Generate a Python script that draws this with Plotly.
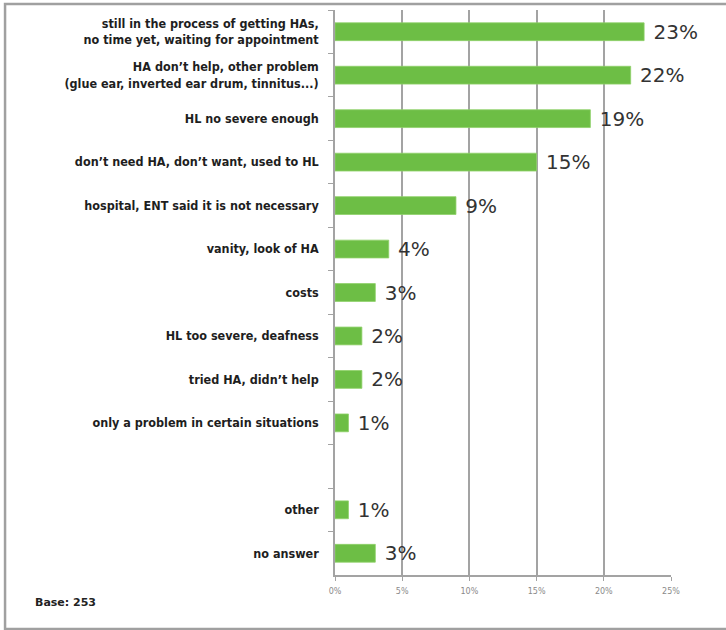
import plotly.graph_objects as go

# Reasons given for not having hearing aids (share of respondents, %)
reasons = [
    "still in the process of getting HAs,<br>no time yet, waiting for appointment",
    "HA don’t help, other problem<br>(glue ear, inverted ear drum, tinnitus...)",
    "HL no severe enough",
    "don’t need HA, don’t want, used to HL",
    "hospital, ENT said it is not necessary",
    "vanity, look of HA",
    "costs",
    "HL too severe, deafness",
    "tried HA, didn’t help",
    "only a problem in certain situations",
    " ",
    "other",
    "no answer",
]
shares = [23, 22, 19, 15, 9, 4, 3, 2, 2, 1, None, 1, 3]
x_ticks = [0, 5, 10, 15, 20, 25]
base_n = 253

GREEN = "#6dbe45"
GRID = "#a3a3a3"

labels = [f" {v}%" if v is not None else "" for v in shares]

fig = go.Figure(
    go.Bar(
        x=shares,
        y=reasons,
        orientation="h",
        marker=dict(color=GREEN, line=dict(color="#8fd06a", width=0.8)),
        text=labels,
        textposition="outside",
        constraintext="none",
        cliponaxis=False,
        textfont=dict(family="DejaVu Sans", size=20, color="#333333"),
        hoverinfo="skip",
    )
)

fig.update_layout(
    width=726,
    height=630,
    margin=dict(l=335, r=55, t=10, b=55),
    paper_bgcolor="white",
    plot_bgcolor="white",
    bargap=0.59,
    showlegend=False,
    xaxis=dict(
        range=[0, 25],
        tickvals=x_ticks,
        ticktext=[f"{t}%" for t in x_ticks],
        showgrid=True,
        gridcolor=GRID,
        gridwidth=1.5,
        zeroline=False,
        showline=True,
        linecolor=GRID,
        linewidth=1.5,
        ticks="outside",
        ticklen=4,
        tickcolor=GRID,
        tickfont=dict(family="DejaVu Sans", size=8, color="#8a8a8a"),
        ticklabelstandoff=4,
        fixedrange=True,
    ),
    yaxis=dict(
        type="category",
        categoryorder="array",
        categoryarray=reasons,
        autorange="reversed",
        tickson="boundaries",
        ticks="outside",
        ticklen=5,
        tickcolor=GRID,
        showline=True,
        linecolor=GRID,
        linewidth=1.5,
        showgrid=False,
        ticklabelstandoff=12,
        tickfont=dict(
            family="DejaVu Sans Condensed, DejaVu Sans",
            size=12.5,
            color="#1e1e1e",
            weight="bold",
        ),
        fixedrange=True,
    ),
    annotations=[
        dict(
            text=f"Base: {base_n}",
            xref="paper",
            yref="paper",
            x=-0.899,
            y=-0.048,
            xanchor="left",
            yanchor="middle",
            showarrow=False,
            font=dict(family="DejaVu Sans", size=11, color="#222222", weight="bold"),
        )
    ],
    shapes=[
        dict(
            type="rect",
            xref="paper",
            yref="paper",
            x0=-0.982,
            x1=2.0,
            y0=-0.0956,
            y1=1.0106,
            line=dict(color="#a0a0a0", width=2.5),
            fillcolor="rgba(0,0,0,0)",
            layer="below",
        )
    ],
)

fig.write_html("out.html")
